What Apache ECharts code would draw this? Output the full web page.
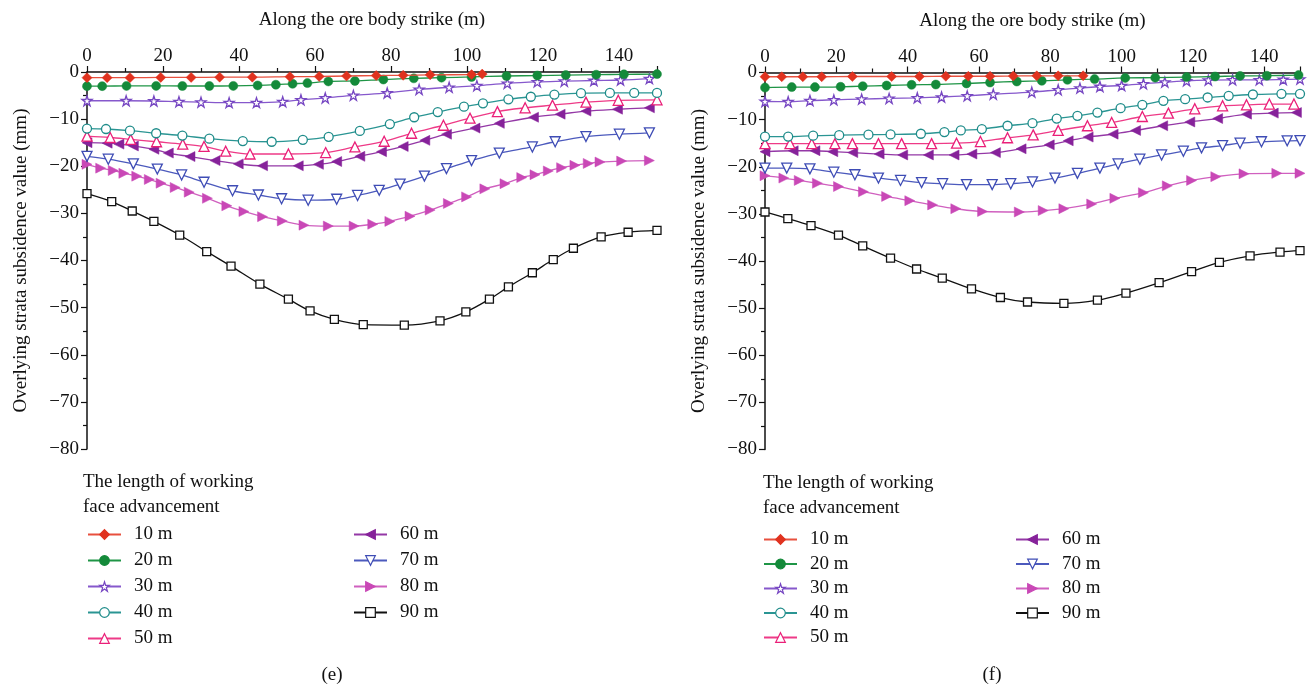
<!DOCTYPE html>
<html>
<head>
<meta charset="utf-8">
<script src="https://cdn.jsdelivr.net/npm/echarts@6/dist/echarts.min.js"></script>
<style>
  html, body { margin: 0; padding: 0; background: #fff; }
  #main { width: 1311px; height: 688px; }
</style>
</head>
<body>
<div id="main"></div>
<script>
// series names (working face advancement)
const names = ['10 m', '20 m', '30 m', '40 m', '50 m', '60 m', '70 m', '80 m', '90 m'];
const xTicks = [0, 20, 40, 60, 80, 100, 120, 140];
const yTicks = [0, -10, -20, -30, -40, -50, -60, -70, -80];

// panel (e): [distance along strike (m), subsidence (mm)]
const e10 = [[0,-1.2],[5.3,-1.2],[11.3,-1.2],[19.4,-1.15],[27.4,-1.15],[34.9,-1.1],[43.5,-1.1],[53.4,-1.0],[61.1,-0.95],[68.3,-0.85],[76.1,-0.75],[83.2,-0.7],[90.3,-0.6],[101.2,-0.55],[104,-0.45]];
const e20 = [[0,-3.0],[4,-3.0],[10.4,-2.95],[18.2,-2.95],[25.1,-2.97],[32.2,-2.97],[38.5,-2.95],[44.9,-2.85],[49.7,-2.7],[54.1,-2.5],[58,-2.35],[63.5,-2.0],[70.5,-1.9],[78,-1.6],[86,-1.35],[93.3,-1.2],[101.2,-1.05],[110.4,-0.85],[118.5,-0.75],[126,-0.65],[134,-0.57],[141.3,-0.5],[150,-0.45]];
const e30 = [[0,-6.1],[10.3,-6.1],[17.6,-6.15],[24.2,-6.3],[30,-6.4],[37.4,-6.5],[44.6,-6.5],[51.5,-6.3],[56.3,-5.9],[62.7,-5.5],[70.1,-4.95],[79,-4.45],[87.4,-3.7],[95.3,-3.25],[102.6,-2.9],[110.6,-2.4],[118.5,-2.1],[125.6,-1.95],[133.4,-1.8],[140.4,-1.7],[148,-1.4]];
const e40 = [[0,-12],[5,-12.1],[11.3,-12.45],[18.2,-13],[25.1,-13.5],[32.2,-14.15],[41,-14.65],[48.6,-14.8],[56.8,-14.4],[63.6,-13.75],[71.8,-12.5],[79.7,-11.05],[86.1,-9.6],[92.3,-8.5],[99.2,-7.35],[104.2,-6.65],[110.9,-5.8],[116.8,-5.25],[123,-4.8],[130,-4.5],[137.6,-4.45],[144,-4.45],[150,-4.45]];
const e50 = [[0,-13.6],[6.1,-13.9],[11.5,-14.3],[18.3,-14.8],[25.2,-15.3],[30.8,-15.8],[36.5,-16.8],[42.9,-17.4],[53,-17.4],[62.8,-17.1],[70.5,-15.9],[78.2,-14.7],[85.4,-13],[93.8,-11.3],[100.8,-9.8],[108,-8.4],[115.3,-7.6],[122.5,-7.05],[131.3,-6.4],[139.8,-6.0],[150,-5.9]];
const e60 = [[0,-15],[5.3,-15.1],[8.4,-15.3],[12.2,-15.7],[17.6,-16.4],[21.4,-17.2],[27.1,-17.95],[33.7,-18.8],[39.8,-19.5],[46.2,-19.9],[55.6,-19.9],[60.9,-19.6],[65.7,-19],[71.8,-17.9],[77.5,-16.9],[83.2,-15.8],[88.9,-14.5],[94.6,-13.2],[102.1,-11.9],[108.5,-10.9],[117.5,-9.6],[124.5,-8.95],[131.3,-8.3],[139.6,-7.9],[148,-7.6]];
const e70 = [[0,-17.9],[5.6,-18.5],[12.2,-19.5],[18.5,-20.6],[24.9,-21.85],[30.8,-23.4],[38.3,-25.2],[45.1,-26.1],[51.2,-26.9],[58.2,-27.2],[65.7,-27.0],[71.2,-26.2],[76.9,-25.1],[82.4,-23.8],[88.8,-22.1],[94.6,-20.5],[101.2,-18.8],[108.5,-17.2],[117.2,-15.9],[123.2,-14.8],[131.3,-13.7],[140.1,-13.2],[148,-12.9]];
const e80 = [[0,-19.6],[3.6,-20.4],[6.9,-20.9],[9.7,-21.5],[13.1,-22.1],[16.4,-22.8],[19.5,-23.6],[23.2,-24.5],[26.9,-25.5],[31.7,-26.8],[36.8,-28.4],[41.3,-29.6],[46.2,-30.7],[51.4,-31.6],[57.1,-32.5],[63.5,-32.7],[70.3,-32.7],[75.2,-32.3],[79.7,-31.7],[85,-30.6],[90.3,-29.3],[95.1,-27.9],[99.9,-26.5],[104.7,-24.8],[110,-23.7],[114.4,-22.4],[117.9,-21.8],[121.4,-21],[124.9,-20.3],[128.4,-19.8],[131.9,-19.4],[135,-19.1],[140.7,-18.9],[148,-18.8]];
const e90 = [[0,-25.8],[6.5,-27.5],[11.9,-29.5],[17.6,-31.7],[24.4,-34.6],[31.5,-38.1],[37.9,-41.2],[45.5,-45],[53,-48.2],[58.7,-50.7],[65.1,-52.5],[72.7,-53.6],[83.5,-53.7],[92.9,-52.8],[99.7,-50.9],[105.9,-48.2],[110.9,-45.6],[117.2,-42.6],[122.7,-39.8],[128,-37.4],[135.3,-35.0],[142.4,-34.0],[150,-33.6]];

// panel (f)
const f10 = [[0,-0.9],[4.7,-0.9],[10.6,-0.9],[15.9,-0.9],[24.5,-0.85],[35.5,-0.85],[43.3,-0.85],[50.7,-0.8],[57,-0.8],[63.1,-0.8],[69.6,-0.75],[76.2,-0.7],[82.2,-0.7],[89.2,-0.7]];
const f20 = [[0,-3.2],[7.5,-3.1],[14,-3.1],[21.2,-3.03],[27.4,-2.9],[34.1,-2.76],[41.1,-2.61],[47.9,-2.55],[56.5,-2.33],[63.1,-2.12],[70.6,-1.91],[77.6,-1.76],[84.8,-1.55],[92.4,-1.4],[101,-1.15],[109.4,-1.1],[118.2,-0.98],[126.2,-0.85],[133.2,-0.72],[140.7,-0.68],[149.6,-0.55]];
const f30 = [[0,-6.15],[6.5,-6.2],[12.6,-5.95],[19.3,-5.8],[27.1,-5.65],[34.8,-5.5],[42.7,-5.37],[49.5,-5.2],[56.7,-4.95],[64,-4.6],[74.8,-4.16],[82.2,-3.67],[88.3,-3.31],[93.9,-2.97],[100,-2.76],[106.1,-2.4],[112.1,-2.04],[118.2,-1.76],[124.3,-1.61],[131.1,-1.55],[138.6,-1.55],[145.3,-1.48],[150,-1.4]];
const f40 = [[0,-13.6],[6.5,-13.6],[13.5,-13.4],[20.8,-13.3],[29,-13.2],[35.2,-13.15],[43.7,-13.0],[50.3,-12.65],[54.9,-12.3],[60.8,-12.0],[68,-11.3],[75,-10.75],[81.8,-9.77],[87.6,-9.2],[93.2,-8.5],[99.7,-7.56],[105.8,-6.86],[111.7,-6.0],[117.8,-5.65],[124.1,-5.3],[130,-4.95],[136.8,-4.67],[144.8,-4.52],[150,-4.52]];
const f50 = [[0,-15.1],[7,-15.1],[13.1,-15.1],[19.6,-15.1],[24.5,-15.1],[31.8,-15.1],[38.3,-15.1],[46.7,-15.1],[53.7,-15.0],[60.4,-14.65],[68,-13.85],[75.2,-13.23],[82.2,-12.3],[90.4,-11.3],[97.2,-10.6],[105.8,-9.34],[113.1,-8.62],[120.5,-7.7],[128.3,-7.07],[135,-6.86],[141.4,-6.7],[148.3,-6.7]];
const f60 = [[0,-16.8],[7.9,-16.6],[14,-16.6],[19,-16.8],[24.6,-17.0],[32,-17.3],[38.6,-17.5],[45.8,-17.5],[53,-17.5],[58,-17.3],[64.6,-17.0],[71.8,-16.2],[79.7,-15.35],[85,-14.5],[90.6,-13.7],[97.6,-13.08],[103.9,-12.3],[111.5,-11.3],[119.1,-10.5],[126.9,-9.77],[135,-8.84],[142.5,-8.62],[149,-8.5]];
const f70 = [[0,-20.3],[6.1,-20.3],[12.6,-20.45],[19.3,-21.15],[25.2,-21.7],[31.8,-22.4],[38,-22.9],[43.9,-23.35],[49.8,-23.6],[56.5,-23.8],[63.7,-23.8],[68.9,-23.6],[75,-23.2],[81.3,-22.4],[87.6,-21.4],[93.9,-20.3],[99,-19.4],[105.1,-18.4],[111.2,-17.5],[117.3,-16.7],[122.4,-16.0],[128.3,-15.5],[133.2,-15.0],[139.2,-14.7],[146.4,-14.5],[150,-14.45]];
const f80 = [[0,-21.9],[5.3,-22.4],[9.6,-22.9],[14.7,-23.5],[20.6,-24.2],[27.6,-25.3],[34.1,-26.3],[40.6,-27.2],[47,-28.1],[53.5,-28.9],[61,-29.5],[71.3,-29.6],[78,-29.3],[83.8,-28.9],[91.6,-27.9],[98.1,-26.7],[106.1,-25.5],[112.8,-24.05],[119.6,-22.9],[126.4,-22.1],[134.3,-21.5],[143.5,-21.4],[150,-21.4]];
const f90 = [[0,-29.6],[6.4,-31],[12.9,-32.5],[20.6,-34.5],[27.4,-36.8],[35.2,-39.4],[42.5,-41.7],[49.7,-43.65],[57.9,-45.9],[66,-47.75],[73.6,-48.7],[83.8,-49],[93.2,-48.3],[101.2,-46.8],[110.5,-44.6],[119.6,-42.25],[127.4,-40.3],[136,-38.9],[144.4,-38.1],[150,-37.8]];

const eSets = [e10, e20, e30, e40, e50, e60, e70, e80, e90];
const fSets = [f10, f20, f30, f40, f50, f60, f70, f80, f90];

const FONT = '"Liberation Serif", "DejaVu Serif", serif';
const STAR = 'path://M50,2 L61,36 L97,36 L68,57 L79,92 L50,71 L21,92 L32,57 L3,36 L39,36 Z';

// marker look for each series
const looks = [
    { c: '#e0321f', line: '#e8503e', sym: 'diamond', size: 10, rot: 0, hollow: false },
    { c: '#148a3a', line: '#1f9546', sym: 'circle', size: 9, rot: 0, hollow: false },
    { c: '#7646c2', line: '#8658cc', sym: STAR, size: 10, rot: 0, hollow: true },
    { c: '#1f8c8a', line: '#2a9593', sym: 'circle', size: 9, rot: 0, hollow: true },
    { c: '#ea1f78', line: '#ee3a87', sym: 'triangle', size: 10, rot: 0, hollow: true },
    { c: '#86229a', line: '#9438a6', sym: 'triangle', size: 10, rot: 90, hollow: false },
    { c: '#3e4cb5', line: '#4c5abd', sym: 'triangle', size: 10, rot: 180, hollow: true },
    { c: '#c948b6', line: '#d060bf', sym: 'triangle', size: 10, rot: -90, hollow: false },
    { c: '#111111', line: '#111111', sym: 'rect', size: 8, rot: 0, hollow: true }
];

function fmtY(v) {
    return v < 0 ? '\u2212' + Math.abs(v) : String(v);
}

function makeX(gridIndex) {
    return {
        type: 'value', gridIndex: gridIndex, position: 'top',
        min: 0, max: 150, interval: 20,
        name: 'Along the ore body strike (m)', nameLocation: 'middle', nameGap: 42,
        nameTextStyle: { fontFamily: FONT, fontSize: 19, color: '#111' },
        axisLine: { show: true, onZero: false, lineStyle: { color: '#111', width: 1.5 } },
        axisTick: { show: true, inside: false, length: 6, lineStyle: { color: '#111', width: 1.2 } },
        minorTick: { show: true, splitNumber: 2, length: 4, lineStyle: { color: '#111', width: 1.2 } },
        axisLabel: { fontFamily: FONT, fontSize: 19, color: '#111', margin: 6, showMaxLabel: false,
            formatter: v => xTicks.indexOf(v) >= 0 ? String(v) : '' },
        splitLine: { show: false }
    };
}

function makeY(gridIndex) {
    return {
        type: 'value', gridIndex: gridIndex,
        min: -80, max: 0, interval: 10,
        name: 'Overlying strata subsidence value (mm)', nameLocation: 'middle', nameGap: 56,
        nameTextStyle: { fontFamily: FONT, fontSize: 19, color: '#111' },
        axisLine: { show: true, onZero: false, lineStyle: { color: '#111', width: 1.5 } },
        axisTick: { show: true, inside: false, length: 6, lineStyle: { color: '#111', width: 1.2 } },
        minorTick: { show: true, splitNumber: 2, length: 4, lineStyle: { color: '#111', width: 1.2 } },
        axisLabel: { fontFamily: FONT, fontSize: 19, color: '#111', margin: 8,
            formatter: v => yTicks.indexOf(v) >= 0 ? fmtY(v) : '' },
        splitLine: { show: false }
    };
}

function makeSeries(sets, idx) {
    return sets.map((d, i) => {
        const lk = looks[i];
        return {
            name: names[i], type: 'line', xAxisIndex: idx, yAxisIndex: idx,
            data: d, smooth: 0.35, showAllSymbol: true,
            symbol: lk.sym, symbolSize: lk.size, symbolRotate: lk.rot,
            lineStyle: { color: lk.line, width: 1.3 },
            itemStyle: lk.hollow
                ? { color: '#ffffff', borderColor: lk.c, borderWidth: 1.3 }
                : { color: lk.c, borderColor: lk.c, borderWidth: 0.5 },
            emphasis: { disabled: true },
            z: 10 - i
        };
    });
}

function makeLegend(list, left, top, gap) {
    return {
        data: list, orient: 'vertical', left: left, top: top, padding: 0,
        itemGap: gap, itemWidth: 33, itemHeight: 12, selectedMode: false,
        itemStyle: { borderWidth: 1.2 },
        textStyle: { fontFamily: FONT, fontSize: 19, color: '#111', lineHeight: 15, padding: [3, 0, 0, 8] }
    };
}

function header(x, y) {
    return {
        type: 'text', x: x, y: y,
        style: { text: 'The length of working\nface advancement', font: '19px ' + FONT,
            fill: '#111', lineHeight: 25, verticalAlign: 'top' }
    };
}

function caption(txt, x) {
    return {
        type: 'text', x: x, y: 675,
        style: { text: txt, font: '19px ' + FONT, fill: '#111', align: 'center', verticalAlign: 'middle' }
    };
}

const option = {
    animation: false,
    backgroundColor: '#ffffff',
    grid: [
        { left: 87, top: 72, width: 570, height: 377 },
        { left: 765, top: 72.5, width: 535, height: 377 }
    ],
    xAxis: [makeX(0), makeX(1)],
    yAxis: [makeY(0), makeY(1)],
    legend: [
        makeLegend(names.slice(0, 5), 87, 525, 7),
        makeLegend(names.slice(5), 353, 525, 7),
        makeLegend(names.slice(0, 5), 763, 530, 5.5),
        makeLegend(names.slice(5), 1015, 530, 5.5)
    ],
    graphic: [
        header(83, 470), header(763, 471),
        caption('(e)', 332), caption('(f)', 992)
    ],
    series: makeSeries(eSets, 0).concat(makeSeries(fSets, 1))
};

const chart = echarts.init(document.getElementById('main'));
chart.setOption(option);
</script>
</body>
</html>
